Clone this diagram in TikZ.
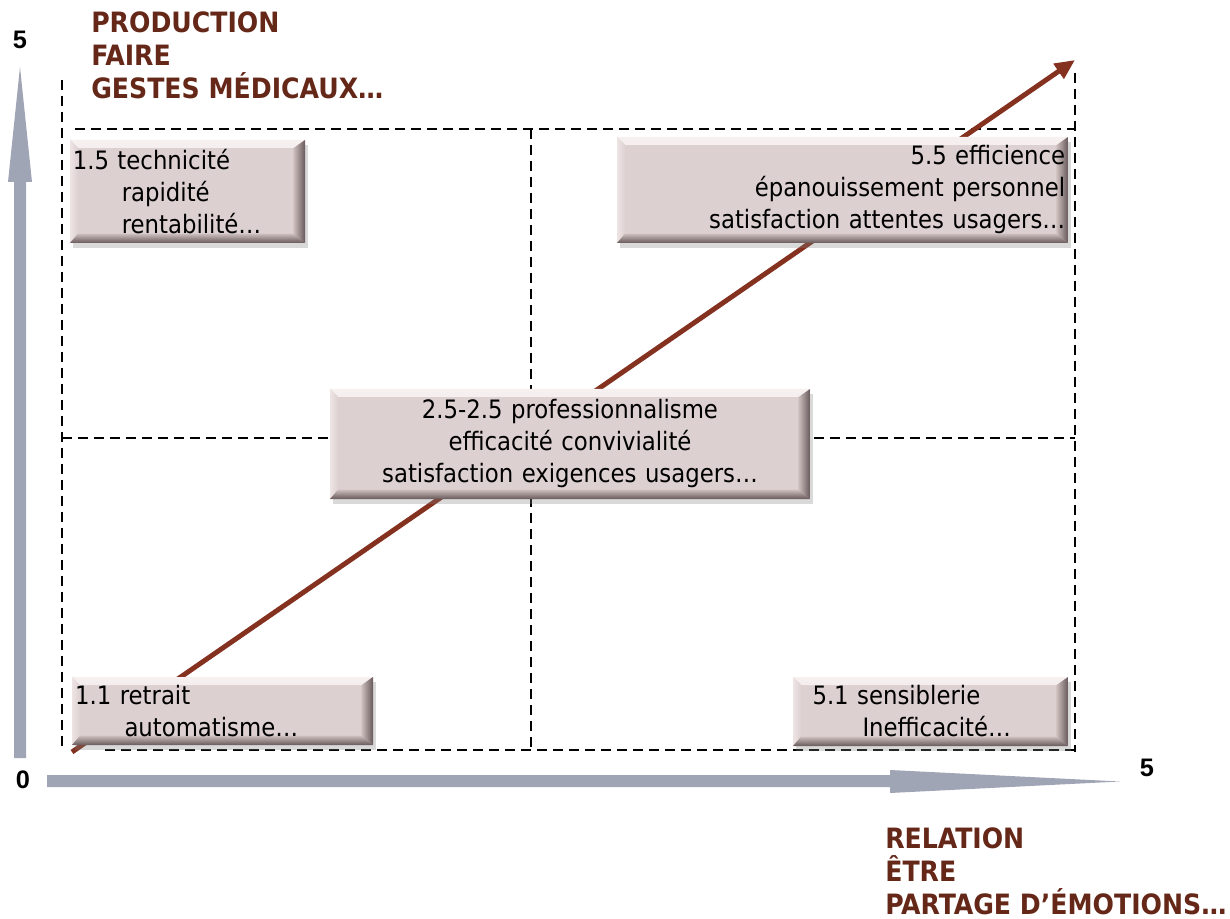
\documentclass[tikz,border=0pt]{standalone}
\usepackage{fontspec}
\setmainfont{DejaVu Sans Condensed}
\newfontfamily\numfont{Liberation Sans}
\usetikzlibrary{arrows.meta,shadows}
\definecolor{axisgrey}{HTML}{A0A5B5}
\definecolor{headbrown}{HTML}{652818}
\definecolor{arrowred}{HTML}{84311F}
\definecolor{boxface}{HTML}{DDD0D0}
\definecolor{bevlightA}{HTML}{F6F0F0}
\definecolor{bevlightB}{HTML}{E6DADA}
\definecolor{bevleftA}{HTML}{EEE4E4}
\definecolor{bevleftB}{HTML}{DDD0D0}
\definecolor{bevdarkA}{HTML}{CDBEBE}
\definecolor{bevdarkB}{HTML}{675959}
\tikzset{
  gridline/.style={draw=black, line width=1pt, dash pattern=on 7.5pt off 4.5pt},
  head/.style={font=\bfseries\fontsize{21}{24.75}\selectfont, text=headbrown, align=left, inner sep=0pt},
  num/.style={font=\numfont\bfseries\fontsize{19}{22}\selectfont, inner sep=0pt},
  box/.style={fill=boxface, inner ysep=0pt, inner xsep=2pt,
    font=\fontsize{19}{24}\selectfont,
    drop shadow={shadow xshift=2pt, shadow yshift=-3.5pt, opacity=0.3},
    path picture={
      \def\bb{path picture bounding box}
      \shade[top color=bevlightA, bottom color=bevlightB] (\bb.north west) -- (\bb.north east) -- ([shift={(-8.5pt,-6pt)}]\bb.north east) -- ([shift={(6pt,-6pt)}]\bb.north west) -- cycle;
      \shade[left color=bevleftA, right color=bevleftB] (\bb.north west) -- (\bb.south west) -- ([shift={(6pt,7pt)}]\bb.south west) -- ([shift={(6pt,-6pt)}]\bb.north west) -- cycle;
      \shade[left color=bevdarkA, right color=bevdarkB] (\bb.north east) -- (\bb.south east) -- ([shift={(-8.5pt,7pt)}]\bb.south east) -- ([shift={(-8.5pt,-6pt)}]\bb.north east) -- cycle;
      \shade[top color=bevdarkA, bottom color=bevdarkB] (\bb.south west) -- (\bb.south east) -- ([shift={(-8.5pt,7pt)}]\bb.south east) -- ([shift={(6pt,7pt)}]\bb.south west) -- cycle;
    }},
  redarrow/.style={draw=arrowred, line width=3.7pt, -{Triangle[length=15pt,width=13pt]}}
}
\begin{document}
\begin{tikzpicture}[x=0.75pt,y=-0.75pt]
\useasboundingbox (0,0) rectangle (1230,919);
% axes
\fill[axisgrey] (14,758) -- (14,182) -- (8,182) -- (20,67) -- (32,182) -- (26,182) -- (26,758) -- cycle;
\fill[axisgrey] (47,775) -- (890,775) -- (890,770) -- (1120,781.5) -- (890,793) -- (890,787) -- (47,787) -- cycle;
\node[num] (ytop) at (20,40) {5};
\node[num] (orig) at (23,780) {0};
\node[num] (xend) at (1147,768) {5};
% grid
\draw[gridline] (62,80) -- (62,752);
\draw[gridline] (1075,73) -- (1075,752);
\draw[gridline] (75,129) -- (1075,129);
\draw[gridline] (62,438) -- (1075,438);
\draw[gridline] (105,750) -- (1075,750);
\draw[gridline] (531,129) -- (531,750);
% diagonal arrow
\coordinate (dstart) at (72,752);
\coordinate (dend) at (1075,60);
\draw[redarrow] (dstart) -- (dend);
% headings
\node[head, anchor=west] (prod) at (91,55) {PRODUCTION\\FAIRE\\GESTES MÉDICAUX…};
\node[head, anchor=west] (rel) at (885,871) {RELATION\\ÊTRE\\PARTAGE D’ÉMOTIONS…};
% boxes
\node[box, minimum width=176.25pt, minimum height=77.25pt, text width=172pt, align=left] (b15) at (187.5,191.5)
  {1.5 technicité\\\hspace*{36.75pt}rapidité\\\hspace*{36.75pt}rentabilité…};
\node[box, minimum width=338.25pt, minimum height=79.5pt, text width=334pt, align=right] (b55) at (842.5,190)
  {5.5 efficience\\épanouissement personnel\\satisfaction attentes usagers…};
\node[box, minimum width=360pt, minimum height=82.5pt, text width=350pt, align=center] (b25) at (570,444)
  {2.5-2.5 professionnalisme\\efficacité convivialité\\satisfaction exigences usagers…};
\node[box, minimum width=225.75pt, minimum height=51pt, text width=221pt, align=left] (b11) at (222.5,711)
  {1.1 retrait\\\hspace*{37pt}automatisme…};
\node[box, minimum width=206.25pt, minimum height=51.75pt, text width=177pt, align=left, inner xsep=14.25pt] (b51) at (930.5,711.5)
  {5.1 sensiblerie\\\hspace*{37.5pt}Inefficacité…};
\end{tikzpicture}
\end{document}
